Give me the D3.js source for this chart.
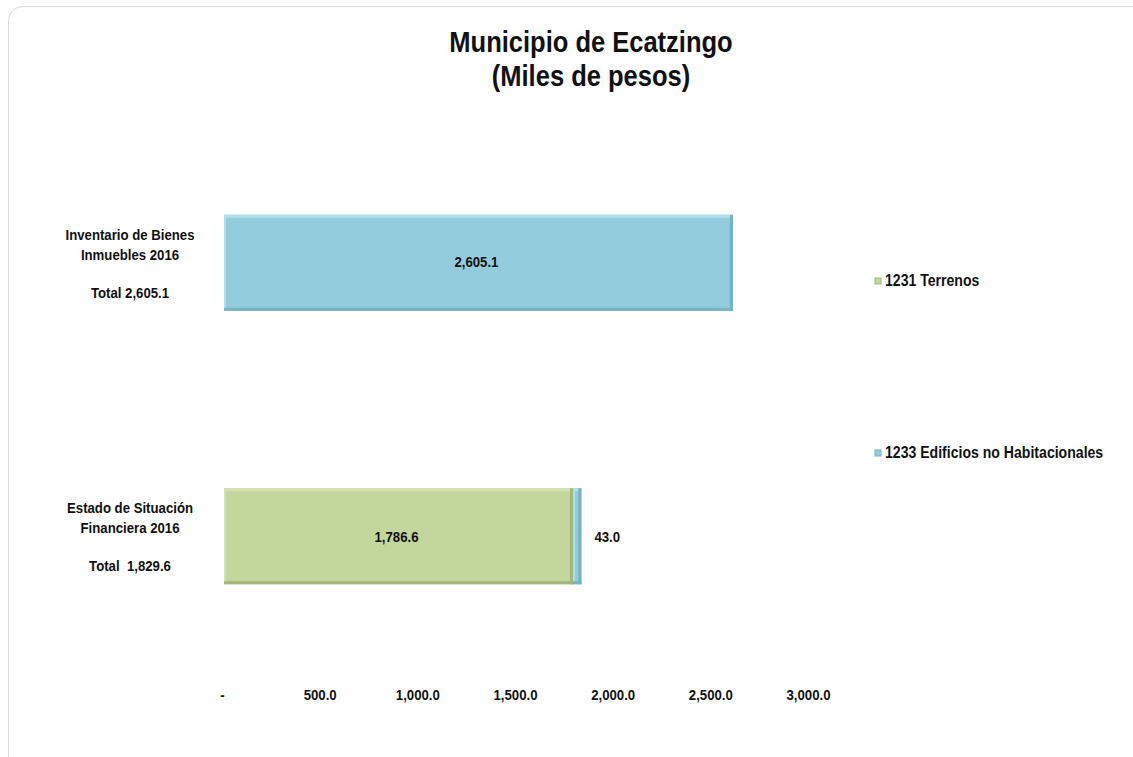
<!DOCTYPE html>
<html lang="en">
<head>
<meta charset="utf-8">
<title>Municipio de Ecatzingo</title>
<script src="https://cdn.jsdelivr.net/npm/d3@7"></script>
<style>
  body { margin: 0; background: #fff; }
  text { font-family: "Liberation Sans Narrow", "Arial Narrow", "Liberation Sans", sans-serif; font-weight: bold; fill: #111; white-space: pre; }
</style>
</head>
<body>
<script>
var width = 1133, height = 757

// data
var categories = ["Inventario de Bienes Inmuebles 2016", "Estado de Situación Financiera 2016"]
var catLines = [["Inventario de Bienes", "Inmuebles 2016", "", "Total 2,605.1"],
                ["Estado de Situación", "Financiera 2016", "", "Total  1,829.6"]]
var series = ["1231 Terrenos", "1233 Edificios no Habitacionales"]
var terrenos = [0, 1786.6]
var edificios = [2605.1, 43.0]
var ticks = [0, 500, 1000, 1500, 2000, 2500, 3000]
var tickLabels = ["-", "500.0", "1,000.0", "1,500.0", "2,000.0", "2,500.0", "3,000.0"]

var colors = { fill: ["#c3d69b", "#93cddd"], dark: ["#a3b67d", "#78b1c0"], light: ["#d3e2b3", "#ade0ea"] }
var sx = 0.88  // squeeze to mimic a narrow face

var svg = d3.select("body").append("svg").attr("width", width).attr("height", height)

// chart area border
svg.append("rect").attr("x", 8.5).attr("y", 6.5).attr("width", 1140).attr("height", 770)
  .attr("rx", 14).attr("fill", "#fff").attr("stroke", "#d9d9d9")

function label(px, py, str, size, anchor) {
  return svg.append("g").attr("transform", "translate(" + px + "," + py + ") scale(" + sx + ",1)")
    .append("text").attr("text-anchor", anchor || "start").style("font-size", size + "px").text(str)
}

label(591, 52, "Municipio de Ecatzingo", 29, "middle")
label(591, 86, "(Miles de pesos)", 29, "middle")

var x = d3.scaleLinear().domain([0, 3000]).range([222, 808])
var y = d3.scaleBand().domain(categories).range([78, 721]).paddingInner(0.649).paddingOuter(0.5)

var stack = d3.stack().keys([0, 1]).value(function(d, k) { return k == 0 ? terrenos[d] : edificios[d] })
var layers = stack([0, 1])

layers.forEach(function(layer, k) {
  layer.forEach(function(seg, i) {
    var w = x(seg[1]) - x(seg[0])
    if (w <= 0) return
    var g = svg.append("g")
    var x0 = x(seg[0]) + 2, y0 = y(categories[i])
    var bw = w, bh = y.bandwidth()
    g.append("rect").attr("x", x0).attr("y", y0).attr("width", bw).attr("height", bh)
      .attr("fill", colors.fill[k])
    // bevel edges
    g.append("rect").attr("x", x0).attr("y", y0).attr("width", bw).attr("height", 3).attr("fill", colors.light[k])
    g.append("rect").attr("x", x0).attr("y", y0).attr("width", 2).attr("height", bh).attr("fill", colors.light[k])
    g.append("rect").attr("x", x0).attr("y", y0 + bh - 3).attr("width", bw).attr("height", 3).attr("fill", colors.dark[k])
    g.append("rect").attr("x", x0 + bw - 3).attr("y", y0).attr("width", 3).attr("height", bh).attr("fill", colors.dark[k])
  })
})

// value labels
var fmt = d3.format(",.1f")
var cy = function(i) { return y(categories[i]) + y.bandwidth() / 2 }
label(x(edificios[0] / 2), cy(0) + 4, fmt(edificios[0]), 15, "middle")
label(x(terrenos[1] / 2), cy(1) + 6, fmt(terrenos[1]), 15, "middle")
label(x(terrenos[1] + edificios[1]) + 15, cy(1) + 6, fmt(edificios[1]), 15)

// category labels
var lineOff = [-23, -3, 0, 35]
catLines.forEach(function(lines, i) {
  lines.forEach(function(l, j) {
    if (l) label(130, cy(i) + lineOff[j], l, 15, "middle")
  })
})

// x axis
var ax = svg.append("g").attr("transform", "translate(0,697)")
  .call(d3.axisBottom(x).tickValues(ticks).tickSize(0).tickFormat(function(d, i) { return tickLabels[i] }))
ax.select(".domain").remove()
ax.selectAll(".tick text").style("font-size", "15px").attr("dy", 0).attr("fill", "#111")
  .attr("transform", "scale(" + sx + ",1)")

// legend
var legY = [286, 458]
series.forEach(function(s, k) {
  svg.append("rect").attr("x", 875).attr("y", legY[k] - 8).attr("width", 6).attr("height", 6)
    .attr("fill", colors.fill[k]).attr("stroke", colors.dark[k])
  label(885, legY[k], s, 16)
})
</script>
</body>
</html>
